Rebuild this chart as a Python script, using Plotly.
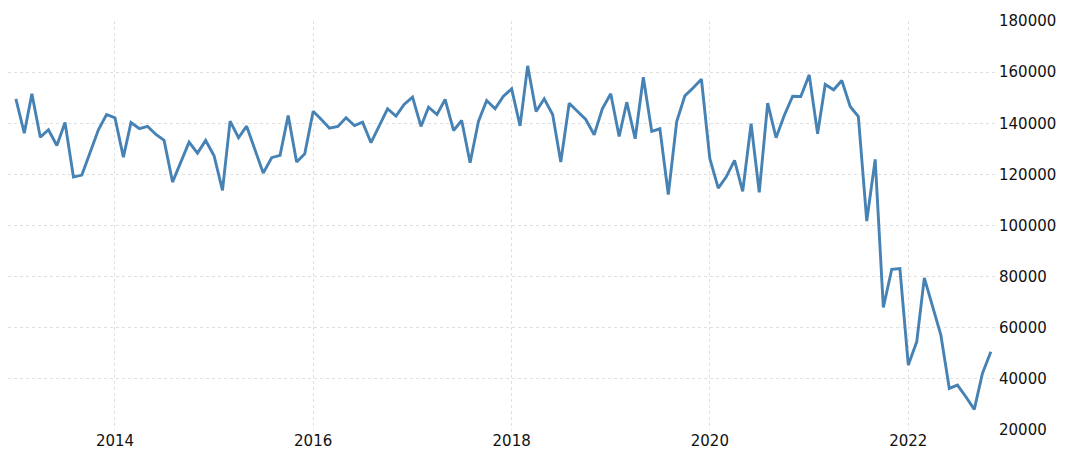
import pandas as pd
import plotly.graph_objects as go

dates = pd.date_range('2013-01-01', '2022-11-01', freq='MS')

v2013 = [149560, 136130, 151520, 134560, 137450, 131320, 140300, 118940, 119720, 128710, 137450, 143430]
v2014 = [142140, 126750, 140300, 137840, 138740, 135620, 133270, 116990, 124800, 132610, 128320, 133270]
v2015 = [127300, 113740, 140820, 134330, 138860, 129640, 120500, 126520, 127420, 143040, 124800, 128080]
v2016 = [144720, 141360, 138080, 138740, 142140, 139130, 140420, 132380, 139130, 145660, 142770, 147340]
v2017 = [150190, 138740, 146280, 143430, 149290, 137180, 141090, 124560, 140820, 148900, 145660, 150460]
v2018 = [153470, 139000, 162450, 144600, 149560, 143430, 124800, 147850, 144600, 141480, 135500, 145660]
v2019 = [151520, 134840, 148240, 133940, 158000, 136790, 137840, 112060, 140700, 150700, 153860, 157220]
v2020 = [126130, 114650, 118940, 125460, 113350, 139800, 112960, 147850, 134330, 143040, 150580, 150460]
v2021 = [158930, 135890, 155150, 153080, 156710, 146550, 142650, 101750, 125850, 67930, 82890, 83150]
v2022 = [45390, 54500, 79500, 68310, 57100, 36290, 37580, 33020, 28070, 42140, 50590]

values = v2013 + v2014 + v2015 + v2016 + v2017 + v2018 + v2019 + v2020 + v2021 + v2022

x_ticks = ['2014-01-01', '2016-01-01', '2018-01-01', '2020-01-01', '2022-01-01']
x_labels = ['2014', '2016', '2018', '2020', '2022']
y_ticks = [20000, 40000, 60000, 80000, 100000, 120000, 140000, 160000, 180000]

fig = go.Figure()
fig.add_trace(go.Scatter(x=dates, y=values, mode='lines',
                         line=dict(color='#4682B4', width=2.9)))

grid = dict(showgrid=True, gridcolor='#e0e0e0', griddash='dot', gridwidth=1,
            zeroline=False, showline=False, ticks='', automargin=False)

# page body has an 8px margin, so the figure is sized to fit the window
fig.update_layout(
    width=1058, height=449,
    margin=dict(l=0, r=70, t=13, b=27),
    paper_bgcolor='white', plot_bgcolor='white',
    showlegend=False,
    font=dict(family='DejaVu Sans', size=15, color='#111111'),
    xaxis=dict(range=['2012-12-03', '2022-11-20'], tickvals=x_ticks, ticktext=x_labels, **grid),
    yaxis=dict(range=[20000, 180000], side='right', tickvals=y_ticks,
               tickformat='d', ticklabelstandoff=2, **grid),
)

fig.write_html("out.html")
